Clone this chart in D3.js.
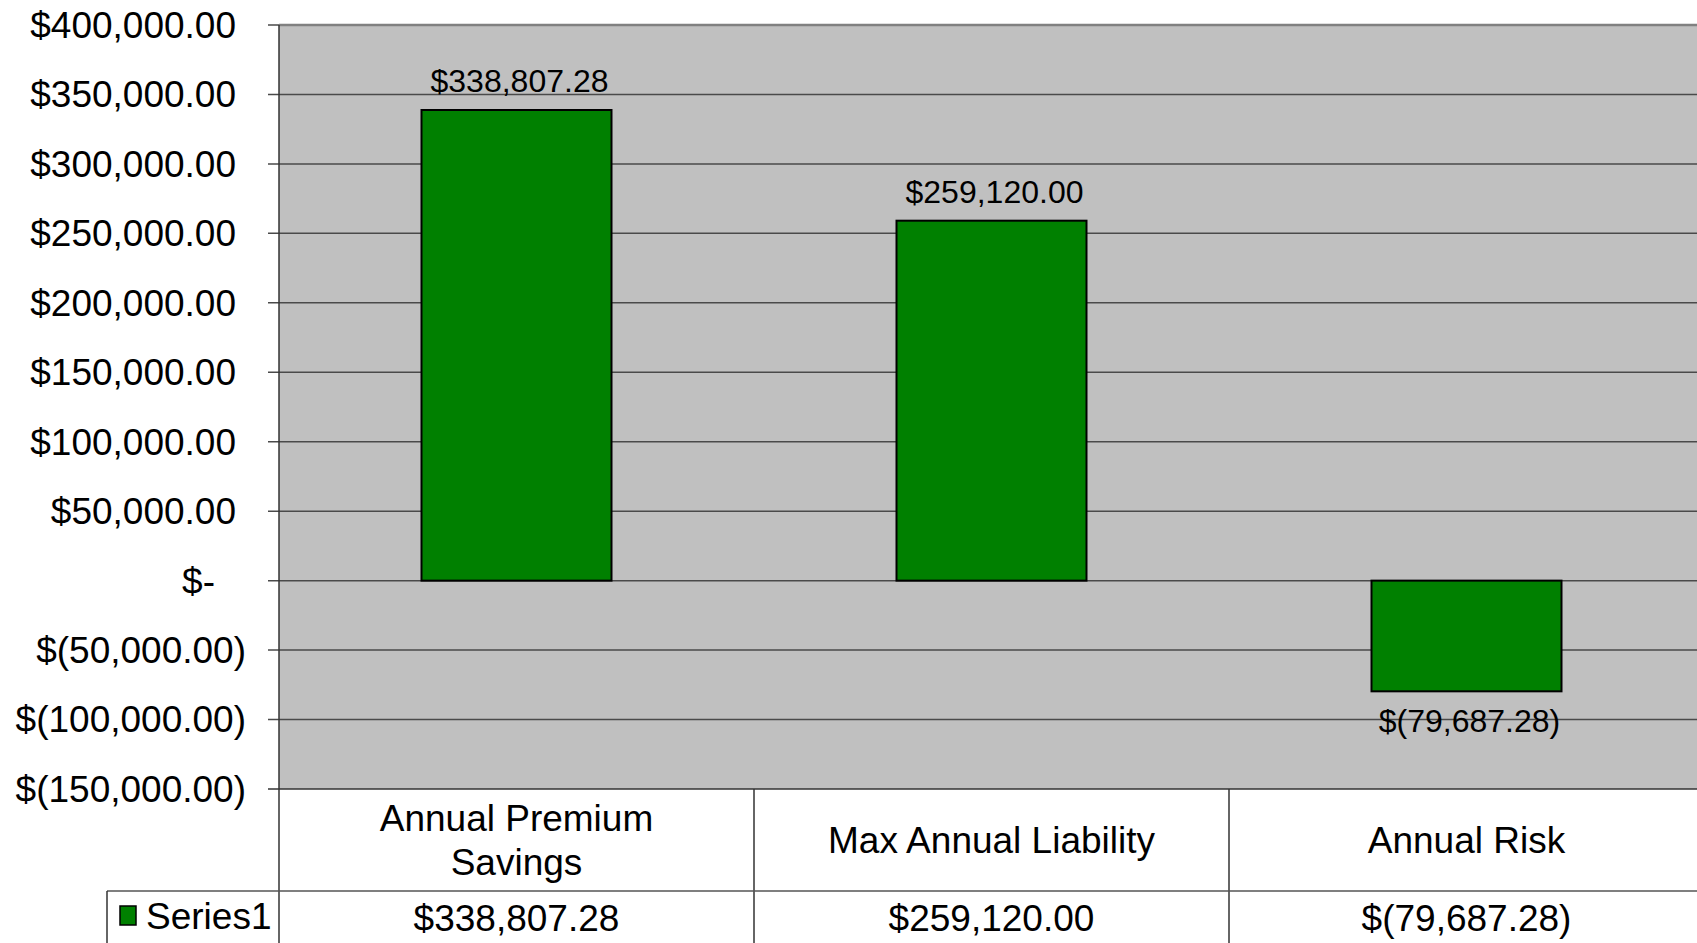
<!DOCTYPE html>
<html>
<head>
<meta charset="utf-8">
<script src="https://cdn.jsdelivr.net/npm/d3@7"></script>
<style>
  html, body { margin: 0; padding: 0; background: #fff; }
  svg { display: block; font-family: "Liberation Sans", Arial, sans-serif; }
</style>
</head>
<body>
<svg id="chart" width="1697" height="943"></svg>
<script>
// chart data
var categories = [["Annual Premium", "Savings"], ["Max Annual Liability"], ["Annual Risk"]];
var seriesName = "Series1";
var seriesValues = [338807.28, 259120.00, -79687.28];
var yTicks = [400000, 350000, 300000, 250000, 200000, 150000, 100000, 50000, 0, -50000, -100000, -150000];

var svg = d3.select("#chart");
var plotLeft = 279, plotRight = 1704, plotTop = 25, plotBottom = 789;
var axisFont = 37, labelFont = 32;

var x = d3.scaleBand().domain(d3.range(categories.length)).range([plotLeft, plotRight]).padding(0);
var y = d3.scaleLinear().domain([-150000, 400000]).range([plotBottom, plotTop]);

var num = d3.format(",.2f");
function money(v) {
    if (v === 0) return "$-";
    if (v < 0) return "$(" + num(-v) + ")";
    return "$" + num(v);
}

// plot area
svg.append("rect")
    .attr("x", plotLeft).attr("y", plotTop)
    .attr("width", plotRight - plotLeft).attr("height", plotBottom - plotTop)
    .attr("fill", "#c0c0c0");

// gridlines
svg.append("g").selectAll("line")
    .data(yTicks.filter(function (d) { return d !== 400000 && d !== -150000; }))
    .enter().append("line")
    .attr("x1", plotLeft - 11).attr("x2", plotRight)
    .attr("y1", function (d) { return y(d); })
    .attr("y2", function (d) { return y(d); })
    .attr("stroke", "#4a4a4a").attr("stroke-width", 1.5);

// plot top border + outer ticks at ends
svg.append("line").attr("x1", plotLeft).attr("x2", plotRight)
    .attr("y1", plotTop).attr("y2", plotTop)
    .attr("stroke", "#808080").attr("stroke-width", 2.5);
svg.append("line").attr("x1", plotLeft - 11).attr("x2", plotLeft)
    .attr("y1", plotTop).attr("y2", plotTop)
    .attr("stroke", "#4a4a4a").attr("stroke-width", 1.5);
svg.append("line").attr("x1", plotLeft - 11).attr("x2", plotRight)
    .attr("y1", plotBottom).attr("y2", plotBottom)
    .attr("stroke", "#333").attr("stroke-width", 1.5);

// y axis line
svg.append("line").attr("x1", plotLeft).attr("x2", plotLeft)
    .attr("y1", plotTop).attr("y2", 943)
    .attr("stroke", "#333").attr("stroke-width", 1.5);

// y tick labels (accounting style: closing paren hangs right)
svg.append("g").selectAll("text")
    .data(yTicks)
    .enter().append("text")
    .attr("x", function (d) { return d < 0 ? 246 : (d === 0 ? 215 : 236); })
    .attr("y", function (d) { return y(d); })
    .attr("dy", "0.35em")
    .attr("text-anchor", "end")
    .attr("font-size", axisFont)
    .attr("fill", "#000")
    .text(money);

// bars
var barW = x.bandwidth() * 0.4;
svg.append("g").selectAll("rect")
    .data(seriesValues)
    .enter().append("rect")
    .attr("x", function (d, i) { return x(i) + (x.bandwidth() - barW) / 2; })
    .attr("y", function (d) { return y(Math.max(0, d)); })
    .attr("width", barW)
    .attr("height", function (d) { return Math.abs(y(d) - y(0)); })
    .attr("fill", "#008000")
    .attr("stroke", "#000").attr("stroke-width", 2);

// data labels
svg.append("g").selectAll("text")
    .data(seriesValues)
    .enter().append("text")
    .attr("x", function (d, i) { return x(i) + x.bandwidth() / 2 + 3; })
    .attr("y", function (d) { return d >= 0 ? y(d) - 18 : y(d) + 41; })
    .attr("text-anchor", "middle")
    .attr("font-size", labelFont)
    .attr("fill", "#000")
    .text(money);

// data table
var rowTop = plotBottom, rowMid = 891, rowEnd = 943, legendLeft = 107;
var table = svg.append("g");
table.selectAll("line.col")
    .data(d3.range(1, categories.length + 1))
    .enter().append("line")
    .attr("x1", function (i) { return plotLeft + i * x.bandwidth(); })
    .attr("x2", function (i) { return plotLeft + i * x.bandwidth(); })
    .attr("y1", rowTop).attr("y2", rowEnd)
    .attr("stroke", "#333").attr("stroke-width", 1.5);
table.append("line").attr("x1", legendLeft).attr("x2", plotRight)
    .attr("y1", rowMid).attr("y2", rowMid)
    .attr("stroke", "#555").attr("stroke-width", 1.5);
table.append("line").attr("x1", legendLeft).attr("x2", legendLeft)
    .attr("y1", rowMid).attr("y2", rowEnd)
    .attr("stroke", "#333").attr("stroke-width", 1.5);

// category labels
var catText = table.selectAll("text.cat")
    .data(categories)
    .enter().append("text")
    .attr("class", "cat")
    .attr("text-anchor", "middle")
    .attr("font-size", axisFont)
    .attr("fill", "#000");
catText.each(function (lines, i) {
    var t = d3.select(this);
    var cy = (rowTop + rowMid) / 2;
    var lh = 43.5;
    lines.forEach(function (ln, j) {
        t.append("tspan")
            .attr("x", x(i) + x.bandwidth() / 2)
            .attr("y", cy + (j - (lines.length - 1) / 2) * lh)
            .attr("dy", "0.35em")
            .text(ln);
    });
});

// series row
table.append("rect")
    .attr("x", 120).attr("y", 906)
    .attr("width", 16).attr("height", 19)
    .attr("fill", "#008000").attr("stroke", "#000").attr("stroke-width", 1.5);
table.append("text")
    .attr("x", 146).attr("y", 916).attr("dy", "0.35em")
    .attr("font-size", axisFont).attr("fill", "#000")
    .text(seriesName);
table.selectAll("text.val")
    .data(seriesValues)
    .enter().append("text")
    .attr("class", "val")
    .attr("x", function (d, i) { return x(i) + x.bandwidth() / 2; })
    .attr("y", 918).attr("dy", "0.35em")
    .attr("text-anchor", "middle")
    .attr("font-size", axisFont).attr("fill", "#000")
    .text(money);
</script>
</body>
</html>
